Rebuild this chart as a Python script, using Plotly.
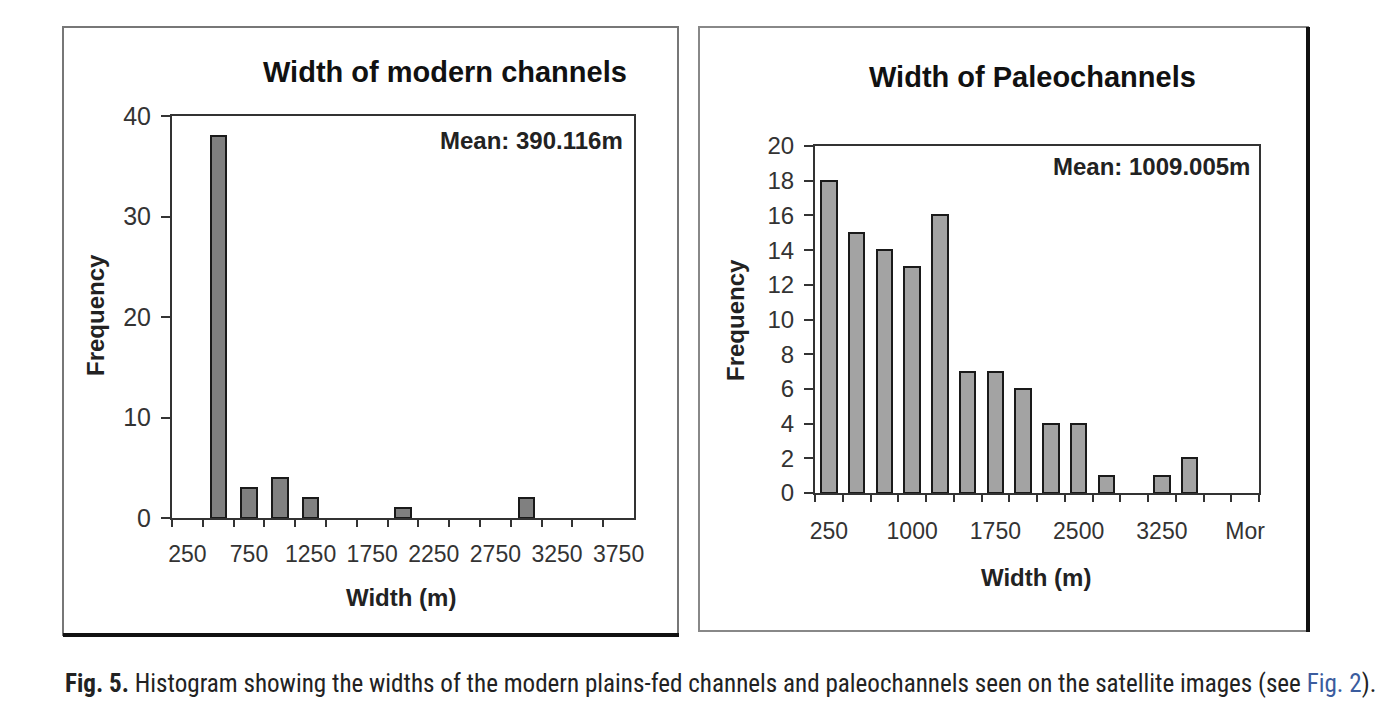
import plotly.graph_objects as go

# ---------------- data ----------------
modern_bins = ["250", "500", "750", "1000", "1250", "1500", "1750", "2000",
               "2250", "2500", "2750", "3000", "3250", "3500", "3750"]
modern_freq = [0, 38, 3, 4, 2, 0, 0, 1, 0, 0, 0, 2, 0, 0, 0]
modern_tick_text = ["250", "", "750", "", "1250", "", "1750", "", "2250", "",
                    "2750", "", "3250", "", "3750"]

paleo_bins = ["250", "500", "750", "1000", "1250", "1500", "1750", "2000",
              "2250", "2500", "2750", "3000", "3250", "3500", "3750", "More"]
paleo_freq = [18, 15, 14, 13, 16, 7, 7, 6, 4, 4, 1, 0, 1, 2, 0, 0]
paleo_tick_text = ["250", "", "", "1000", "", "", "1750", "", "", "2500", "",
                   "", "3250", "", "", "Mor"]

modern_title = "Width of modern channels"
paleo_title = "Width of Paleochannels"
modern_mean = "Mean: 390.116m"
paleo_mean = "Mean: 1009.005m"
x_title = "Width (m)"
y_title = "Frequency"
caption = ("<b>Fig. 5.</b> Histogram showing the widths of the modern plains-fed channels "
           "and paleochannels seen on the satellite images (see "
           "<span style='color:#3b5c9e'>Fig. 2</span>).")

# ---------------- figure ----------------
W, H = 1389, 719
FONT = "Liberation Sans, Arial, sans-serif"


def px(x):
    return x / W


def py(y):
    return 1 - y / H


fig = go.Figure()
fig.add_trace(go.Bar(x=modern_bins, y=modern_freq, xaxis="x", yaxis="y",
                     marker=dict(color="#808080",
                                 line=dict(color="#1a1a1a",
                                           width=[2 if v > 0 else 0 for v in modern_freq])),
                     width=0.5, showlegend=False))
fig.add_trace(go.Bar(x=paleo_bins, y=paleo_freq, xaxis="x2", yaxis="y2",
                     marker=dict(color="#a3a3a3",
                                 line=dict(color="#1a1a1a",
                                           width=[2 if v > 0 else 0 for v in paleo_freq])),
                     width=0.55, showlegend=False))

axis_common = dict(showline=True, mirror=True, linecolor="#333", linewidth=2,
                   showgrid=False, zeroline=False, ticks="outside", tickcolor="#333",
                   tickwidth=2, automargin=False)

fig.update_layout(
    width=W, height=H, autosize=False,
    margin=dict(l=0, r=0, t=0, b=0, pad=0),
    paper_bgcolor="white", plot_bgcolor="white",
    font=dict(family=FONT, color="#333"),
    bargap=0,
    xaxis=dict(domain=[px(172), px(634)], anchor="y", type="category",
               tickmode="array", tickvals=modern_bins, ticktext=modern_tick_text,
               tickson="boundaries", ticklen=7, tickangle=0, ticklabelstandoff=14,
               range=[-0.5, len(modern_bins) - 0.5],
               tickfont=dict(size=23, color="#333"), **axis_common),
    yaxis=dict(domain=[py(518), py(116)], anchor="x", range=[0, 40], dtick=10,
               ticklen=9, ticklabelstandoff=5,
               tickfont=dict(size=25, color="#333"), **axis_common),
    xaxis2=dict(domain=[px(815), px(1259)], anchor="y2", type="category",
                tickmode="array", tickvals=paleo_bins, ticktext=paleo_tick_text,
                tickson="boundaries", ticklen=7, tickangle=0, ticklabelstandoff=16,
                range=[-0.5, len(paleo_bins) - 0.5],
                tickfont=dict(size=23, color="#333"), **axis_common),
    yaxis2=dict(domain=[py(493), py(146)], anchor="x2", range=[0, 20], dtick=2,
                ticklen=9, ticklabelstandoff=5,
                tickfont=dict(size=24, color="#333"), **axis_common),
)

ann = []
# titles
ann.append(dict(text=f"<b>{modern_title}</b>", x=px(445), y=py(72), font=dict(size=29, color="#111")))
ann.append(dict(text=f"<b>{paleo_title}</b>", x=px(1032), y=py(77), font=dict(size=29, color="#111")))
# means
ann.append(dict(text=f"<b>{modern_mean}</b>", x=px(625), y=py(141), xanchor="right",
                font=dict(size=24, color="#222")))
ann.append(dict(text=f"<b>{paleo_mean}</b>", x=px(1252), y=py(166), xanchor="right",
                font=dict(size=24, color="#222")))
# axis titles
ann.append(dict(text=f"<b>{x_title}</b>", x=px(401), y=py(597), font=dict(size=24, color="#222")))
ann.append(dict(text=f"<b>{x_title}</b>", x=px(1036), y=py(577), font=dict(size=24, color="#222")))
ann.append(dict(text=f"<b>{y_title}</b>", x=px(95), y=py(315), textangle=-90,
                font=dict(size=24, color="#222")))
ann.append(dict(text=f"<b>{y_title}</b>", x=px(735), y=py(320), textangle=-90,
                font=dict(size=24, color="#222")))
# caption
ann.append(dict(text=caption, x=px(63), y=py(683), xanchor="left",
                font=dict(size=25.1, color="#222",
                          family="Liberation Sans Narrow, Roboto Condensed, Lato, sans-serif")))
for a in ann:
    a.setdefault("xanchor", "center")
    a.update(xref="paper", yref="paper", yanchor="middle", showarrow=False)
fig.update_layout(annotations=ann)

# panel frames
shapes = [
    dict(type="rect", x0=px(63), x1=px(678), y0=py(635), y1=py(27),
         line=dict(color="#777", width=2)),
    dict(type="line", x0=px(63), x1=px(679), y0=py(635), y1=py(635),
         line=dict(color="#111", width=4)),
    dict(type="rect", x0=px(699), x1=px(1308), y0=py(631), y1=py(27),
         line=dict(color="#888", width=2)),
    dict(type="line", x0=px(1308), x1=px(1308), y0=py(632), y1=py(27),
         line=dict(color="#111", width=4)),
]
for s in shapes:
    s.update(xref="paper", yref="paper")
fig.update_layout(shapes=shapes)

fig.write_html("out.html", config={"responsive": False, "displayModeBar": False},
               post_script="document.body.style.margin='0px';"
                           "document.body.style.overflow='hidden';")
